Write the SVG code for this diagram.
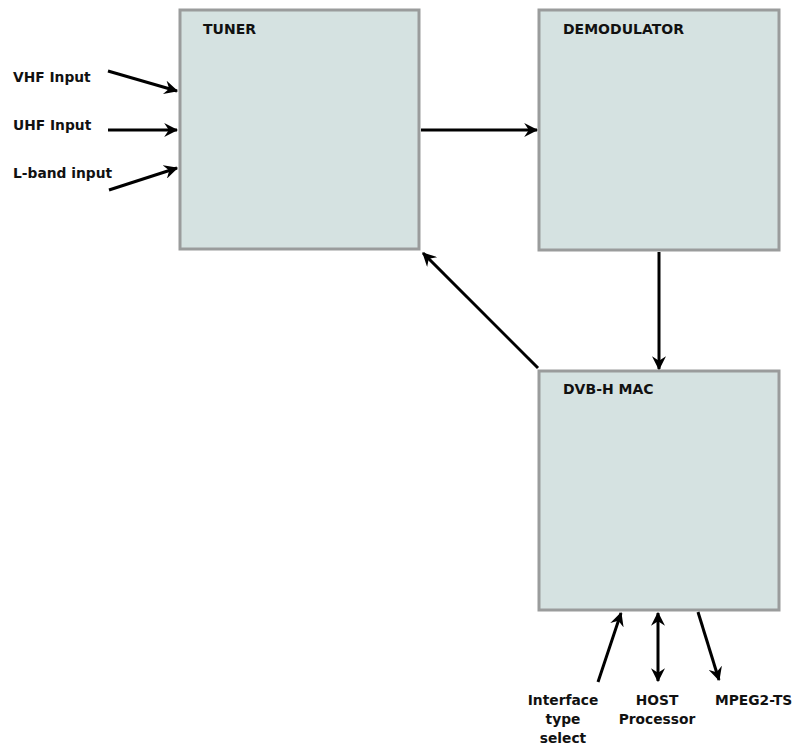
<svg xmlns="http://www.w3.org/2000/svg" width="794" height="747" viewBox="0 0 794 747">
<style>
.box{fill:#d5e2e1;stroke:#9a9c9c;stroke-width:3}
.t{font-family:"DejaVu Sans",sans-serif;font-weight:bold;font-size:14px;fill:#111}
.l{font-family:"DejaVu Sans",sans-serif;font-weight:bold;font-size:13.8px;fill:#111}
.c{stroke:#000;stroke-width:3;fill:none;marker-end:url(#ah)}
</style>
<defs>
<marker id="ah" viewBox="0 0 12 12" refX="11" refY="6" markerWidth="14" markerHeight="14" markerUnits="userSpaceOnUse" orient="auto-start-reverse">
<path d="M0,0 L12,6 L0,12 L4,6 Z" fill="#000"/>
</marker>
</defs>
<rect width="794" height="747" fill="#fff"/>
<g id="tuner"><rect class="box" x="180" y="10" width="239" height="239"/><text class="t" x="203" y="34">TUNER</text></g>
<g id="demodulator"><rect class="box" x="539" y="10" width="240" height="240"/><text class="t" x="563" y="34">DEMODULATOR</text></g>
<g id="dvbh-mac"><rect class="box" x="539" y="371" width="240" height="239"/><text class="t" x="563" y="394">DVB-H MAC</text></g>
<g id="labels">
<text class="l" x="13" y="82">VHF Input</text>
<text class="l" x="13" y="130">UHF Input</text>
<text class="l" x="13" y="178">L-band input</text>
<text class="l" x="563" y="705" text-anchor="middle">Interface</text>
<text class="l" x="563" y="724" text-anchor="middle">type</text>
<text class="l" x="563" y="743" text-anchor="middle">select</text>
<text class="l" x="657" y="705" text-anchor="middle">HOST</text>
<text class="l" x="657" y="724" text-anchor="middle">Processor</text>
<text class="l" x="715" y="705">MPEG2-TS</text>
</g>
<g id="connectors">
<line class="c" x1="108" y1="71" x2="177" y2="91"/>
<line class="c" x1="108" y1="130" x2="177" y2="130"/>
<line class="c" x1="109" y1="190" x2="177" y2="168"/>
<line class="c" x1="421" y1="130" x2="537" y2="130"/>
<line class="c" x1="659" y1="252" x2="659" y2="369"/>
<line class="c" x1="538" y1="368" x2="423" y2="253"/>
<line class="c" x1="598" y1="682" x2="621" y2="613"/>
<line class="c" x1="658" y1="613" x2="658" y2="681" style="marker-start:url(#ah)"/>
<line class="c" x1="698" y1="612" x2="719" y2="680"/>
</g>
</svg>
